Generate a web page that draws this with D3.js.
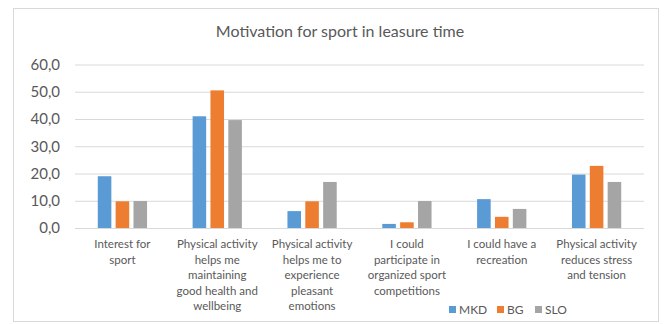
<!DOCTYPE html>
<html>
<head>
<meta charset="utf-8">
<script src="https://cdn.jsdelivr.net/npm/d3@7"></script>
<style>
  body { margin: 0; background: #fff; }
  text { font-family: Lato, "Open Sans", sans-serif; fill: #595959; }
</style>
</head>
<body>
<svg id="chart" width="670" height="324"></svg>
<script>
// Chart data
const categories = [
    ['Interest for', 'sport'],
    ['Physical activity', 'helps me', 'maintaining', 'good health and', 'wellbeing'],
    ['Physical activity', 'helps me to', 'experience', 'pleasant', 'emotions'],
    ['I could', 'participate in', 'organized sport', 'competitions'],
    ['I could have a', 'recreation'],
    ['Physical activity', 'reduces stress', 'and tension']
];
const seriesNames = ['MKD', 'BG', 'SLO'];
const mkd = [19.0, 41.0, 6.2, 1.5, 10.6, 19.6];
const bg = [9.8, 50.5, 9.8, 2.1, 4.1, 22.8];
const slo = [9.9, 39.6, 16.9, 9.9, 7.0, 16.9];
const yTicks = [0, 10, 20, 30, 40, 50, 60];
const colors = ['#5b9bd5', '#ed7d31', '#a5a5a5'];

const series = [mkd, bg, slo];
const svg = d3.select('#chart');

// Outer frame
svg.append('rect')
    .attr('x', 13.5).attr('y', 8.5)
    .attr('width', 645).attr('height', 313)
    .attr('fill', '#fff')
    .attr('stroke', '#d9d9d9');

svg.append('text')
    .attr('x', 340).attr('y', 37)
    .attr('text-anchor', 'middle')
    .style('font-size', '16px')
    .text('Motivation for sport in leasure time');

const left = 75, right = 644;
const y = d3.scaleLinear().domain([0, 60]).range([228, 64.5]);
const x0 = d3.scaleBand()
    .domain(d3.range(categories.length))
    .range([left, right])
    .paddingInner(0.39).paddingOuter(0.195);
const x1 = d3.scaleBand()
    .domain(d3.range(seriesNames.length))
    .range([0, x0.bandwidth()])
    .padding(0.24);

// Gridlines and y labels
const yAxis = svg.append('g')
    .attr('transform', `translate(${left},0)`)
    .call(d3.axisLeft(y)
        .tickValues(yTicks)
        .tickSize(-(right - left))
        .tickPadding(15)
        .tickFormat(d => d3.format('.1f')(d).replace('.', ',')));
yAxis.select('.domain').remove();
yAxis.selectAll('line').attr('stroke', '#d9d9d9');
yAxis.selectAll('text')
    .style('font-size', '15px')
    .style('font-family', 'Lato, "Open Sans", sans-serif')
    .attr('fill', '#595959');

// Bars
const groups = svg.selectAll('.cat')
    .data(categories.map((c, i) => i))
    .enter().append('g')
    .attr('transform', i => `translate(${x0(i)},0)`);

groups.selectAll('rect')
    .data(i => series.map((s, k) => ({ k, v: s[i] })))
    .enter().append('rect')
    .attr('x', d => x1(d.k))
    .attr('width', x1.bandwidth())
    .attr('y', d => y(d.v))
    .attr('height', d => y(0) - y(d.v))
    .attr('fill', d => colors[d.k]);

// Category labels
groups.append('text')
    .attr('text-anchor', 'middle')
    .style('font-size', '11.5px')
    .selectAll('tspan')
    .data(i => categories[i])
    .enter().append('tspan')
    .attr('x', x0.bandwidth() / 2)
    .attr('y', (d, j) => 248 + j * 15.5)
    .text(d => d);

// Legend
const legendX = [449, 497, 535];
const legend = svg.selectAll('.legend')
    .data(seriesNames)
    .enter().append('g')
    .attr('transform', (d, i) => `translate(${legendX[i]},310)`);
legend.append('rect')
    .attr('x', 0).attr('y', -4)
    .attr('width', 7).attr('height', 7)
    .attr('fill', (d, i) => colors[i]);
legend.append('text')
    .attr('x', 10).attr('y', 4)
    .style('font-size', '12px')
    .text(d => d);
</script>
</body>
</html>
